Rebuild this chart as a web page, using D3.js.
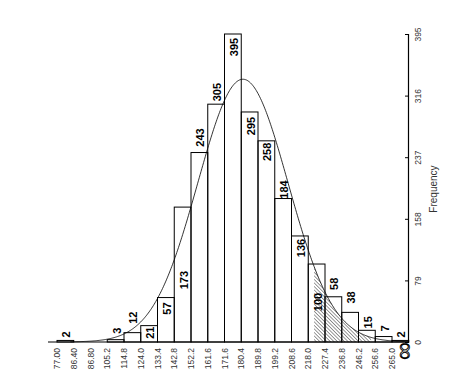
<!DOCTYPE html>
<html><head><meta charset="utf-8">
<script src="https://cdn.jsdelivr.net/npm/d3@7"></script>
<style>html,body{margin:0;padding:0;background:#fff;}svg{display:block;font-family:"Liberation Sans",Arial,sans-serif;}</style>
</head><body><svg id="c" width="469" height="383"></svg>
<script>
// bin edge labels (21 labels; the last bin after 265.0 is unlabeled)
const edgeLabels = ["77.00","86.40","86.80","105.2","114.8","124.0","133.4","142.8","152.2","161.6","171.6","180.4","189.8","199.2","208.6","218.0","227.4","236.8","246.2","256.6","265.0"];
// frequencies per bin (0 = empty bin)
const freqs = [2,0,0,3,12,21,57,173,243,305,395,295,258,184,136,100,58,38,15,7,2];
const freqTicks = [0,79,158,237,316,395];
// fitted normal curve (in bin-index units)
const curveMean = 11.1, curveSd = 2.69, curvePeak = 337;
// shaded tail region (bin-index units)
const hatchFrom = 15.35, hatchTo = 18.75;
// label vertical offsets from bar top (layout)
const labelDy = [-6,0,0,-9,-15,7,11,73,-15,-12,13,14,11,-9,12,38,-13,-15,-8,-8,-6];

const svg = d3.select("#c");
const x = d3.scaleLinear().domain([0,21]).range([57,408.75]);
const y = d3.scaleLinear().domain([0,395]).range([342,34]);
const f = t => curvePeak*Math.exp(-0.5*Math.pow((t-curveMean)/curveSd,2));

const defs = svg.append("defs");
const pat = defs.append("pattern").attr("id","hatch").attr("patternUnits","userSpaceOnUse")
  .attr("width",2.5).attr("height",2.5).attr("patternTransform","rotate(45)");
pat.append("line").attr("x1",0).attr("y1",0).attr("x2",2.5).attr("y2",0).attr("stroke","#000").attr("stroke-width",0.8);

// hatch area
const hx = d3.range(hatchFrom, hatchTo+0.001, 0.05);
svg.append("path").datum(hx)
  .attr("d", d3.area().x(d=>x(d)).y0(y(0)).y1(d=>y(f(d))))
  .attr("fill","url(#hatch)");

// bars
const bars = svg.append("g");
freqs.forEach((d,i)=>{
  if(d>0) bars.append("rect").attr("x",x(i)).attr("width",x(i+1)-x(i))
    .attr("y",y(d)).attr("height",y(0)-y(d))
    .attr("fill","none").attr("stroke","#000").attr("stroke-width",1);
});

// curve
const cx = d3.range(0.8, 21.0001, 0.05);
svg.append("path").datum(cx)
  .attr("d", d3.line().x(d=>x(d)).y(d=>y(f(d))))
  .attr("fill","none").attr("stroke","#000").attr("stroke-width",0.8);

// baseline
svg.append("line").attr("x1",48).attr("x2",408).attr("y1",y(0)).attr("y2",y(0))
  .attr("stroke","#000").attr("stroke-width",1.2);

// bar labels
const lab = svg.append("g");
freqs.forEach((d,i)=>{
  if(d>0){
    const cxp = (x(i)+x(i+1))/2 + 1, cyp = y(d)+labelDy[i];
    lab.append("text").attr("transform",`translate(${cxp},${cyp}) rotate(-90)`)
      .attr("text-anchor","middle").attr("dominant-baseline","central")
      .attr("font-size",11).attr("font-weight","bold").text(d);
  }
});

// bottom edge labels
const bl = svg.append("g");
edgeLabels.forEach((t,i)=>{
  bl.append("text").attr("transform",`translate(${x(i)},348) rotate(-90)`)
    .attr("text-anchor","end").attr("dominant-baseline","central")
    .attr("font-size",8.5).attr("fill","#333").text(t);
});

// right axis
const ax = svg.append("g").attr("transform",`translate(408,0)`)
  .call(d3.axisRight(y).tickValues(freqTicks).tickSize(-3).tickPadding(0));
ax.select(".domain").attr("stroke","#000").attr("stroke-width",1.2);
ax.selectAll(".tick line").attr("stroke","#000");
ax.selectAll(".tick text").attr("x",null).attr("dy",null)
  .attr("transform","translate(10,0) rotate(-90)")
  .attr("text-anchor","middle").attr("dominant-baseline","central")
  .attr("font-size",8.5).attr("fill","#333").attr("font-family","Liberation Sans, Arial, sans-serif");

svg.append("text").attr("transform","translate(433,189) rotate(-90)")
  .attr("text-anchor","middle").attr("dominant-baseline","central")
  .attr("font-size",10).attr("fill","#333").text("Frequency");

// infinity-like marker below axis (thin outline)
svg.append("text").attr("transform","translate(406,351) rotate(90)")
  .attr("text-anchor","middle").attr("dominant-baseline","central")
  .attr("font-size",24).attr("font-family","DejaVu Sans").attr("font-weight",200)
  .attr("fill","#fff").attr("stroke","#000").attr("stroke-width",0.9).text("∞");
</script></body></html>
